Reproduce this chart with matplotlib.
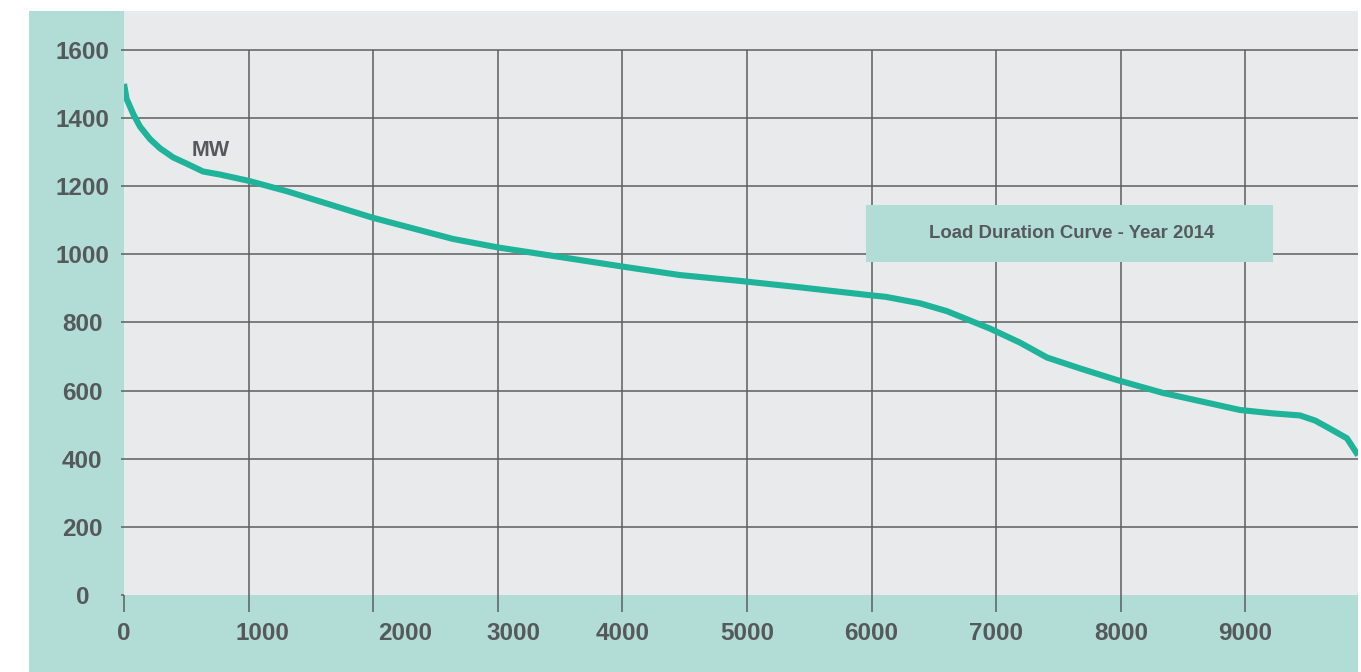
import matplotlib
matplotlib.use("Agg")
import matplotlib.pyplot as plt
from matplotlib.patches import Rectangle

# ---- data ----
hours = [0, 21, 75, 128, 209, 289, 396, 503, 634, 770, 995, 1308, 1998, 2640, 3002,
         3500, 4000, 4462, 4940, 5425, 5960, 6115, 6390, 6605, 6950, 7190, 7408,
         7673, 7960, 8339, 8957, 9222, 9438, 9560, 9655, 9815, 9904]
load_mw = [1500, 1456, 1411, 1375, 1338, 1311, 1284, 1266, 1243, 1234, 1216, 1185,
           1107, 1045, 1020, 992, 964, 939, 922, 903, 881, 875, 856, 833, 782, 741,
           697, 665, 632, 593, 543, 533, 527, 512, 493, 460, 410]
x_ticks = [0, 1000, 2000, 3000, 4000, 5000, 6000, 7000, 8000, 9000]
y_ticks = [0, 200, 400, 600, 800, 1000, 1200, 1400, 1600]
unit_label = "MW"
title = "Load Duration Curve - Year 2014"

# ---- style ----
TEAL_BG = "#b2ddd6"
PLOT_BG = "#e9eaec"
LINE_C = "#1fb39a"
GRID_C = "#5c5e60"
TEXT_C = "#55595c"
FONT = "Liberation Sans"
TICK_FS = 17.5
# horizontal nudges (pixels) of x tick labels as placed in the reference
x_label_nudge_px = [0, 14, 32, 16, 0, 0, 0, 0, 0, 0]

W, H = 1361, 672
fig = plt.figure(figsize=(W / 100, H / 100), dpi=100)
fig.patch.set_facecolor("white")

def fx(px):
    return px / W

def fy(py):
    return 1 - py / H

# teal background band (left column + bottom strip)
fig.patches.append(Rectangle((fx(29), 0), fx(1358) - fx(29), fy(11),
                             transform=fig.transFigure, facecolor=TEAL_BG,
                             edgecolor="none", zorder=-5))

ax = fig.add_axes([fx(124), fy(595), fx(1358) - fx(124), (595 - 11) / H])
ax.set_zorder(2)
ax.set_facecolor(PLOT_BG)
for s in ax.spines.values():
    s.set_visible(False)

ax.set_xlim(0, 9904)
ax.set_ylim(0, 1714)

# grid: horizontal lines across, vertical lines only up to the top tick
for yv in y_ticks[1:]:
    ax.axhline(yv, color=GRID_C, lw=1.1, zorder=1)
ax.vlines(x_ticks[1:], 0, y_ticks[-1], color=GRID_C, lw=1.1, zorder=1)

ax.plot(hours, load_mw, color=LINE_C, lw=4.4, solid_joinstyle="round",
        solid_capstyle="butt", zorder=3)

ax.set_xticks(x_ticks)
ax.set_yticks(y_ticks)
ax.set_xticklabels([])
ax.set_yticklabels([str(v) for v in y_ticks])

ax.tick_params(axis="x", direction="out", length=12, width=1.1, color=GRID_C)
ax.tick_params(axis="y", direction="out", length=2, width=1.1, color=GRID_C,
               pad=28, labelsize=TICK_FS, labelcolor=TEXT_C)
for lab in ax.get_yticklabels():
    lab.set_fontfamily(FONT)
    lab.set_fontweight("bold")
    lab.set_horizontalalignment("center")

# x tick labels (drawn as annotations so each can follow the reference placement)
for v, dx in zip(x_ticks, x_label_nudge_px):
    ax.annotate(str(v), xy=(v, 0), xycoords=("data", "axes fraction"),
                xytext=(dx * 0.72, -27.4), textcoords="offset points",
                ha="center", va="center", fontsize=TICK_FS, fontweight="bold",
                color=TEXT_C, family=FONT, annotation_clip=False)

# unit label
ax.text(698, 1306, unit_label, ha="center", va="center", fontsize=15.5,
        fontweight="bold", color=TEXT_C, family=FONT, zorder=4)

# title box
bx, by, bw, bh = 0.601, 0.570, 0.330, 0.0976
ax.add_patch(Rectangle((bx, by), bw, bh, transform=ax.transAxes,
                       facecolor=TEAL_BG, edgecolor="none", zorder=2))
ax.text(bx + bw / 2 + 0.002, by + bh / 2, title, transform=ax.transAxes,
        ha="center", va="center", fontsize=13.4, fontweight="bold",
        color=TEXT_C, family=FONT, zorder=4)

fig.savefig("out.png", dpi=100, facecolor="white")
